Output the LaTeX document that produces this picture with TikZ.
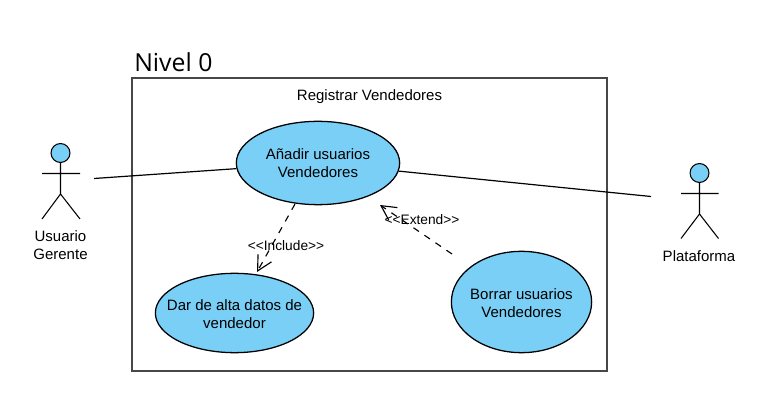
\documentclass[tikz,border=0pt]{standalone}
\usepackage{fontspec}
\setmainfont{Liberation Sans}
\newfontfamily\titlefont{Open Sans}
\usetikzlibrary{arrows.meta,shapes.geometric}
\definecolor{ucblue}{HTML}{7ACFF6}
\tikzset{
  px/.style={x=0.75pt,y=-0.75pt},
  usecase/.style={ellipse,draw=black,fill=ucblue,line width=0.95pt,inner sep=0pt},
  line/.style={draw=black,line width=0.9pt},
  dep/.style={draw=black,line width=0.85pt,dash pattern=on 5pt off 5pt,-{Straight Barb[length=11pt,width=11.5pt,line width=0.85pt]}},
  txt/.style={inner sep=0pt,align=center,font=\fontsize{11.25pt}{13.5pt}\selectfont},
  deplabel/.style={inner sep=0pt,font=\fontsize{10.3pt}{12pt}\selectfont},
  limb/.style={draw=black,line width=0.8pt},
  head/.style={circle,draw=black,fill=ucblue,line width=0.8pt,minimum size=14.2pt,inner sep=0pt},
}
\begin{document}
\begin{tikzpicture}[px]
\useasboundingbox (0,0) rectangle (777,402);
\draw[draw=black!72,line width=1.1pt] (132,78) rectangle (607,371);
\node[anchor=base west,inner sep=0pt,font=\titlefont\fontsize{18.6pt}{20pt}\selectfont] (title) at (134,72) {Nivel 0};
\node[txt] (sys) at (369.5,96.5) {Registrar Vendedores};
% use cases
\node[usecase,minimum width=122.5pt,minimum height=62.5pt,label={[txt,name=maintext,yshift=-0.4pt]center:Añadir usuarios\\Vendedores}] (main) at (318,163) {};
\node[usecase,minimum width=118.7pt,minimum height=59.5pt,label={[txt,name=altatext,yshift=-0.7pt]center:Dar de alta datos de\\vendedor}] (alta) at (234.5,313) {};
\node[usecase,minimum width=105.2pt,minimum height=76pt,label={[txt,name=borrartext,yshift=-0.7pt]center:Borrar usuarios\\Vendedores}] (borrar) at (521.5,302) {};
% left actor
\node[head] (h1) at (60.5,153) {};
\coordinate (n1) at (60.5,194);
\coordinate (a1l) at (42,173.5);
\coordinate (a1r) at (80,173.5);
\coordinate (f1l) at (42,219);
\coordinate (f1r) at (80,219);
\draw[limb] (h1) -- (n1) (a1l) -- (a1r) (f1l) -- (n1) -- (f1r);
\node[txt] (l1) at (60.5,245) {Usuario\\Gerente};
% right actor
\node[head] (h2) at (699.5,173) {};
\coordinate (n2) at (699.5,214);
\coordinate (a2l) at (681,193.5);
\coordinate (a2r) at (718.5,193.5);
\coordinate (f2l) at (681,238.5);
\coordinate (f2r) at (718.5,238.5);
\draw[limb] (h2) -- (n2) (a2l) -- (a2r) (f2l) -- (n2) -- (f2r);
\node[txt] (l2) at (699,256) {Plataforma};
% associations
\coordinate (pl) at (94,178.5);
\coordinate (pr) at (651,196.5);
\draw[line] (pl) -- (main);
\draw[line] (main) -- (pr);
% dependencies
\coordinate (inca) at (295,204);
\coordinate (incb) at (257,272);
\draw[dep] (inca) -- (incb);
\coordinate (exta) at (452,254);
\coordinate (extb) at (380,205);
\draw[dep] (exta) -- (extb);
\node[deplabel] (inc) at (286,246) {{<}{<}Include{>}{>}};
\node[deplabel] (ext) at (422,220) {{<}{<}Extend{>}{>}};
\end{tikzpicture}
\end{document}
